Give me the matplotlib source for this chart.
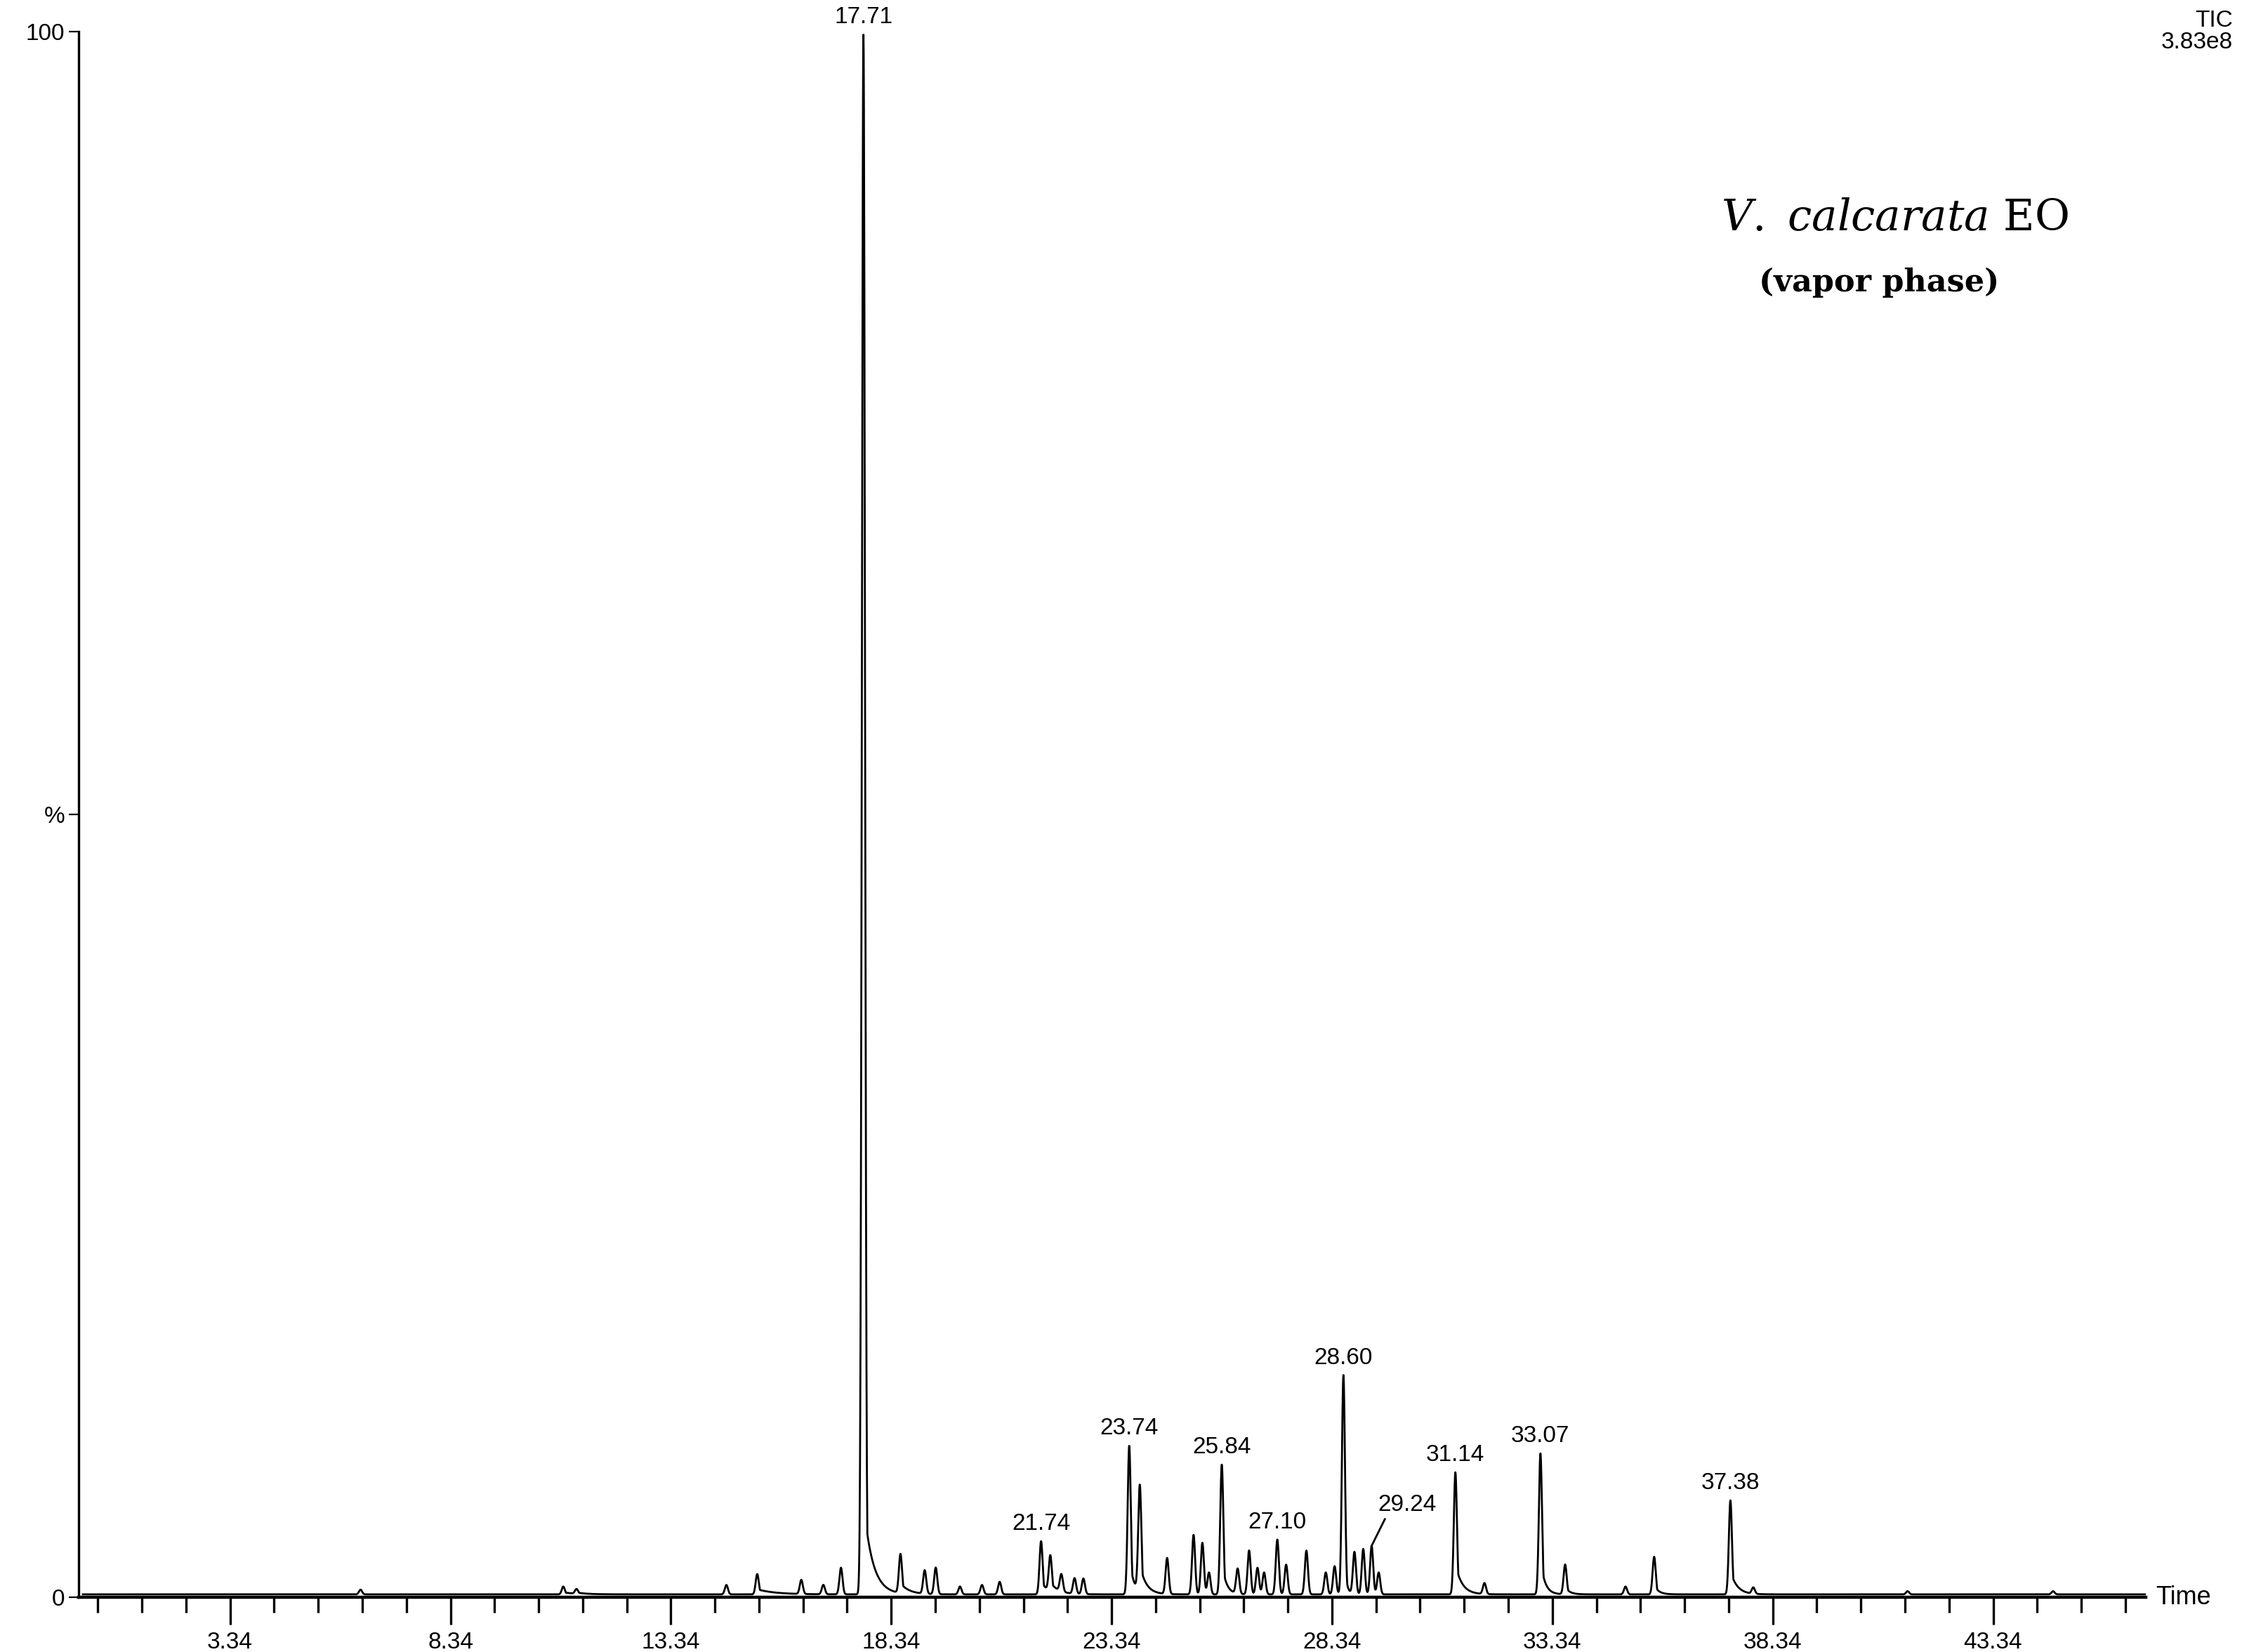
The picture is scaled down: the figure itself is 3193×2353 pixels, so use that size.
import numpy as np
import matplotlib.pyplot as plt

# peak table: retention time (min), height (%), width (min), tail (min)
peak_rt = [6.3, 10.9, 11.2, 14.6, 15.3, 16.3, 16.8, 17.2, 17.71, 18.55, 19.1, 19.35, 19.9, 20.4,
           20.8, 21.74, 21.95, 22.2, 22.5, 22.7, 23.74, 23.98, 24.6, 25.2, 25.4, 25.55, 25.84,
           26.2, 26.46, 26.65, 26.8, 27.10, 27.3, 27.76, 28.2, 28.4, 28.60, 28.85, 29.05, 29.24,
           29.4, 31.14, 31.8, 33.07, 33.63, 35.0, 35.65, 37.38, 37.9, 41.4, 44.7]
peak_h = [0.3, 0.5, 0.3, 0.6, 1.3, 0.9, 0.6, 1.7, 99.6, 2.5, 1.5, 1.7, 0.5, 0.6,
          0.8, 3.4, 2.3, 1.1, 1.0, 1.0, 9.5, 6.8, 2.3, 3.8, 3.3, 1.4, 8.3,
          1.6, 2.8, 1.7, 1.4, 3.5, 1.9, 2.8, 1.4, 1.8, 14.0, 2.7, 2.9, 3.1,
          1.4, 7.8, 0.7, 9.0, 1.9, 0.5, 2.4, 6.0, 0.4, 0.2, 0.2]
peak_w = [0.035] * len(peak_rt)
peak_tail = [0.0, 0.3, 0.2, 0.0, 0.4, 0.0, 0.0, 0.0, 0.2, 0.2, 0.0, 0.0, 0.0, 0.0,
             0.0, 0.15, 0.2, 0.0, 0.0, 0.0, 0.1, 0.15, 0.0, 0.0, 0.0, 0.0, 0.1,
             0.0, 0.0, 0.0, 0.0, 0.0, 0.0, 0.0, 0.0, 0.0, 0.05, 0.0, 0.0, 0.0,
             0.0, 0.15, 0.0, 0.1, 0.1, 0.0, 0.1, 0.15, 0.0, 0.0, 0.0]
labels = ['17.71', '21.74', '23.74', '25.84', '27.10', '28.60', '29.24', '31.14', '33.07', '37.38']
baseline = 0.2

t = np.linspace(0, 47, 9000)
y = np.full_like(t, baseline)
for rt, h, w, tail in zip(peak_rt, peak_h, peak_w, peak_tail):
    g = np.exp(-0.5 * ((t - rt) / w) ** 2)
    if tail > 0:
        amp = 0.25 if h < 50 else 0.06
        after = t > rt
        g[after] = np.maximum(g[after], amp * np.exp(-(t[after] - rt) / tail))
    y += h * g

plt.rcParams['font.family'] = ['Liberation Sans', 'DejaVu Sans']
fig = plt.figure(figsize=(15.965, 11.765), dpi=200)
ax = fig.add_axes([0.035, 0.033, 0.922, 0.948])
ax.plot(t, y, color='black', lw=1.0)
ax.set_xlim(-0.1, 46.8)
ax.set_ylim(0, 100)
for s in ['top', 'right']:
    ax.spines[s].set_visible(False)
ax.spines['left'].set_linewidth(1.2)
ax.spines['bottom'].set_linewidth(1.6)

ax.set_xticks([3.34, 8.34, 13.34, 18.34, 23.34, 28.34, 33.34, 38.34, 43.34])
ax.set_xticks(np.arange(0.34, 46.8, 1.0), minor=True)
ax.tick_params(axis='x', which='major', length=14, width=1.2, labelsize=12, direction='out')
ax.tick_params(axis='x', which='minor', length=8, width=1.2)
ax.set_yticks([0, 50, 100])
ax.set_yticklabels(['0', '%', '100'])
ax.tick_params(axis='y', length=5, labelsize=12, pad=2)

for lab in labels:
    rt = float(lab)
    i = np.argmin(np.abs(np.array(peak_rt) - rt))
    h = peak_h[i] + baseline
    if lab == '29.24':
        ax.plot([rt, rt + 0.3], [h, h + 1.7], color='black', lw=1)
        ax.text(rt + 0.8, h + 1.9, lab, ha='center', va='bottom', fontsize=12)
    else:
        ax.text(rt, h + 0.4, lab, ha='center', va='bottom', fontsize=12)

fig.text(0.996, 0.981, 'TIC\n3.83e8', ha='right', va='center', fontsize=12, linespacing=1.0)
ax.text(1.005, 0, 'Time', transform=ax.transAxes, ha='left', va='center', fontsize=13)
fig.text(0.845, 0.868, r'$\mathit{V.\ calcarata}$ EO', ha='center', va='center', fontsize=22,
         family='DejaVu Serif', math_fontfamily='dejavuserif')
fig.text(0.838, 0.829, '(vapor phase)', ha='center', va='center', fontsize=16,
         family='DejaVu Serif', fontweight='bold')

fig.savefig('out.png', dpi=200)
